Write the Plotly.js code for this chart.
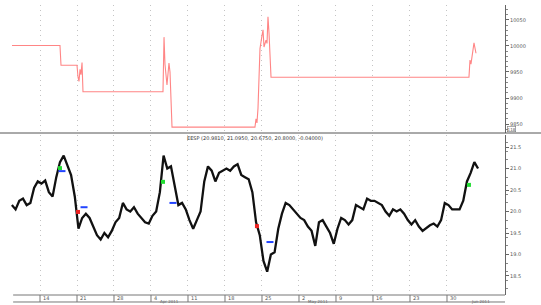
<!DOCTYPE html>
<html>
<head>
<meta charset="utf-8">
<script src="https://cdn.plot.ly/plotly-3.0.1.min.js"></script>
<style>html,body{margin:0;padding:0;background:#fff;}#chart{width:541px;height:305px;}</style>
</head>
<body>
<div id="chart"></div>
<script>
// Price series (bottom panel), sampled every half trading day, starting at trading day 1.2
var priceStart = 1.2;
var priceStep = 0.5;
var price = [20.15,20.05,20.25,20.3,20.15,20.2,20.55,20.7,20.65,20.72,20.45,20.35,20.8,21.15,21.3,21.05,20.85,20.35,19.6,19.85,
  19.95,19.85,19.65,19.45,19.35,19.5,19.4,19.55,19.75,19.85,20.2,20.05,20.0,20.1,19.95,19.85,19.75,19.72,19.9,20.0,
  20.45,21.3,21.0,21.05,20.6,20.15,20.2,20.05,19.8,19.6,19.8,20.0,20.7,21.05,20.95,20.7,20.9,20.95,21.0,20.95,
  21.05,21.1,20.85,20.8,20.75,20.45,19.75,19.45,18.85,18.6,19.0,19.05,19.6,19.95,20.2,20.15,20.05,19.95,19.85,19.8,
  19.65,19.55,19.2,19.75,19.8,19.65,19.5,19.25,19.6,19.85,19.8,19.7,19.8,20.15,20.1,20.05,20.3,20.25,20.25,20.2,
  20.15,20.0,19.9,20.05,20.0,20.05,19.95,19.8,19.7,19.8,19.65,19.55,19.62,19.68,19.72,19.65,19.8,20.2,20.15,20.05,
  20.05,20.05,20.25,20.7,20.9,21.15,21.0];

// Indicator series (top panel)
var indX = [1.22,7.70,7.84,10.0,10.14,10.27,10.41,10.54,10.68,10.81,21.62,21.76,21.89,22.16,22.43,22.57,22.84,34.05,34.19,34.32,
  34.46,34.73,35.0,35.14,35.27,35.54,35.68,35.81,35.95,36.22,62.97,63.11,63.24,63.51,63.65,63.92];
var indY = [10001,10001,9963,9963,9940,9932,9955,9945,9968,9912,9912,10017,9965,9925,9967,9950,9844,9844,9860,9852,
  9880,9995,10020,10031,9998,10011,10005,10056,10025,9940,9940,9973,9965,9990,10006,9986];

// Signal markers
var greenX = [7.70,21.62,62.97], greenY = [21.01,20.69,20.62];
var redX = [10.14,34.32], redY = [19.99,19.66];
var blueX = [7.97,10.95,22.97,36.08], blueY = [20.94,20.10,20.20,19.29];

// Axis ticks
var xTickVals = [5,10,15,20,25,30,35,40,45,50,55,60];
var xTickText = ['14','21','28','4','11','18','25','2','9','16','23','30'];
var monthVals = [20,40,62];
var monthText = ['Apr 2011','May 2011','Jun 2011'];
var topTicks = [9850,9900,9950,10000,10050];
var botTicks = [18.5,19.0,19.5,20.0,20.5,21.0,21.5];
var titleText = 'EESP (20.9810, 21.0950, 20.6750, 20.8000, -0.04000)';

var priceX = price.map(function(_, i){ return priceStart + i*priceStep; });

var font = {family:'DejaVu Sans, sans-serif', size:5, color:'#555'};

var traces = [
  {x: indX, y: indY, xaxis:'x', yaxis:'y2', type:'scatter', mode:'lines',
   line:{color:'#ff8585', width:1.1}, hoverinfo:'skip'},
  {x: priceX, y: price, xaxis:'x', yaxis:'y', type:'scatter', mode:'lines',
   line:{color:'#111', width:2.3}, hoverinfo:'skip'},
  {x: greenX, y: greenY, xaxis:'x', yaxis:'y', type:'scatter', mode:'markers',
   marker:{color:'#22dd33', size:4, symbol:'square'}},
  {x: redX, y: redY, xaxis:'x', yaxis:'y', type:'scatter', mode:'markers',
   marker:{color:'#ee2222', size:4, symbol:'square'}},
  {x: blueX, y: blueY, xaxis:'x', yaxis:'y', type:'scatter', mode:'markers',
   marker:{color:'#2244ff', size:5, symbol:'line-ew', line:{color:'#2244ff', width:2}}}
];

var yAxisCommon = {
  side:'right', showline:true, linecolor:'#666', linewidth:1,
  ticks:'outside', ticklen:3, tickcolor:'#666', tickfont:font,
  showgrid:false, zeroline:false, fixedrange:true,
  minor:{ticks:'outside', ticklen:2, tickcolor:'#888', nticks:6}
};

var annotations = [];
xTickVals.forEach(function(v, i){
  annotations.push({x:v, y:-0.012, xref:'x', yref:'paper', text:xTickText[i],
    showarrow:false, xanchor:'left', yanchor:'middle', xshift:1, font:font});
});
monthVals.forEach(function(v, i){
  annotations.push({x:v, y:-0.0345, xref:'x', yref:'paper', text:monthText[i],
    showarrow:false, xanchor:'left', yanchor:'bottom', xshift:8, borderpad:0,
    font:{family:'DejaVu Sans, sans-serif', size:4, color:'#666'}});
});
annotations.push({x:0.505, y:0.541, xref:'paper', yref:'paper', text:titleText,
  showarrow:false, xanchor:'center', yanchor:'middle', font:{family:'DejaVu Sans, sans-serif', size:5, color:'#333'}});
annotations.push({x:1.004, y:0.562, xref:'paper', yref:'paper', text:'118',
  showarrow:false, xanchor:'left', yanchor:'bottom', borderwidth:0.6, bordercolor:'#777', borderpad:0,
  font:{family:'DejaVu Sans, sans-serif', size:4, color:'#555'}});

var shapes = [
  {type:'line', xref:'paper', yref:'paper', x0:0, x1:1.0713, y0:0.5586, y1:0.5586, line:{color:'#555', width:1}},
  {type:'line', xref:'paper', yref:'paper', x0:0.026, x1:1, y0:0, y1:0, line:{color:'#777', width:1}},
  {type:'line', xref:'paper', yref:'paper', x0:0.026, x1:1, y0:-0.0241, y1:-0.0241, line:{color:'#777', width:1}}
];
xTickVals.forEach(function(v){
  shapes.push({type:'line', xref:'x', yref:'paper', x0:v, x1:v, y0:0, y1:-0.0241, line:{color:'#777', width:1}});
});

var layout = {
  width:541, height:305,
  margin:{l:0, r:36, t:5, b:10},
  paper_bgcolor:'#fff', plot_bgcolor:'#fff',
  showlegend:false,
  xaxis:{range:[-0.405, 67.84], tickvals:xTickVals, showticklabels:false, ticks:'',
    showgrid:true, gridcolor:'#c4c4c4', griddash:'1px,4px', gridwidth:1,
    zeroline:false, showline:false, fixedrange:true, anchor:'y'},
  yaxis:Object.assign({}, yAxisCommon, {domain:[0, 0.5517], range:[18.058, 21.78],
    tickvals:botTicks, tickformat:'.1f', anchor:'x'}),
  yaxis2:Object.assign({}, yAxisCommon, {domain:[0.5586, 1], range:[9832.7, 10078.8],
    tickvals:topTicks, tickformat:'d', anchor:'x'}),
  annotations:annotations,
  shapes:shapes
};

Plotly.newPlot('chart', traces, layout, {staticPlot:true, displayModeBar:false});
</script>
</body>
</html>
